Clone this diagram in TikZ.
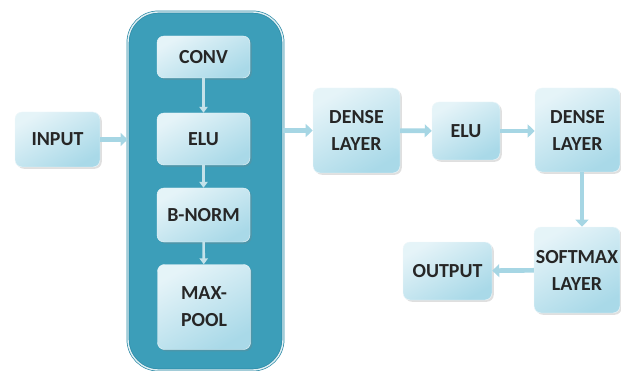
\documentclass[tikz,border=0pt]{standalone}
\usepackage{fontspec}
\setmainfont{Carlito}
\usepackage{tikz}
\usepackage{xcolor}
\usetikzlibrary{arrows.meta,shadows}
\definecolor{blockteal}{HTML}{3C9EB9}
\definecolor{blockedge}{HTML}{2B8AA6}
\definecolor{layerblue}{HTML}{A9D9E8}
\definecolor{arrowblue}{HTML}{A6D6E4}
\tikzset{
    layer-box/.style = {rectangle, rounded corners=6pt, draw=white!80!layerblue, thin, top color=white!70!layerblue, bottom color=layerblue, shading angle=30, drop shadow={opacity=0.25, shadow xshift=1.5pt, shadow yshift=-1.5pt}, font=\fontsize{17}{19}\selectfont\bfseries, text=black!85, align=center, inner sep=0pt},
    block-box/.style = {rectangle, rounded corners=26pt, fill=blockteal, draw=blockedge, double=white!85!blockteal, double distance=1.2pt, line width=0.6pt},
    flow-arrow/.style = {draw=arrowblue, line width=4pt, -{Triangle[length=6pt, width=11pt]}},
    inner-arrow/.style = {draw=white!70!blockteal, line width=2.2pt, -{Triangle[length=5pt, width=7pt]}},
}

\begin{document}
\begin{tikzpicture}[x=0.03cm, y=-0.03cm]
\useasboundingbox (0,0) rectangle (621,371);
\node [block-box, minimum width=155*0.03cm, minimum height=358*0.03cm] (block) at (205.5,191) {};
\node [layer-box, minimum width=85*0.03cm, minimum height=55*0.03cm] (input) at (57.5,139.5) {INPUT};
\node [layer-box, minimum width=93*0.03cm, minimum height=42*0.03cm] (conv) at (203.5,57) {CONV};
\node [layer-box, minimum width=93*0.03cm, minimum height=52*0.03cm] (elu-a) at (203.5,139) {ELU};
\node [layer-box, minimum width=93*0.03cm, minimum height=54*0.03cm] (bnorm) at (203.5,215) {B-NORM};
\node [layer-box, minimum width=93*0.03cm, minimum height=85*0.03cm] (maxpool) at (204,307) {MAX-\\[4pt]POOL};
\node [layer-box, minimum width=87*0.03cm, minimum height=85*0.03cm] (dense-a) at (356.5,130.5) {DENSE\\[4pt]LAYER};
\node [layer-box, minimum width=68*0.03cm, minimum height=58*0.03cm] (elu-b) at (466,131) {ELU};
\node [layer-box, minimum width=85*0.03cm, minimum height=84*0.03cm] (dense-b) at (577.5,130) {DENSE\\[4pt]LAYER};
\node [layer-box, minimum width=86*0.03cm, minimum height=86*0.03cm] (softmax) at (577,270) {SOFTMAX\\[4pt]LAYER};
\node [layer-box, minimum width=89*0.03cm, minimum height=58*0.03cm] (output) at (447.5,271) {OUTPUT};
\draw [inner-arrow] (conv) -- (elu-a);
\draw [inner-arrow] (elu-a) -- (bnorm);
\draw [inner-arrow] (bnorm) -- (maxpool);
\draw [flow-arrow] (input.east) -- (input.east -| block.west);
\draw [flow-arrow] (dense-a.west -| block.east) -- (dense-a.west);
\draw [flow-arrow] (dense-a) -- (elu-b);
\draw [flow-arrow] (elu-b) -- (elu-b -| dense-b.west);
\draw [flow-arrow] (dense-b.south -| 582,0) -- (softmax.north -| 582,0);
\draw [flow-arrow] (softmax) -- (output);
\end{tikzpicture}
\end{document}
